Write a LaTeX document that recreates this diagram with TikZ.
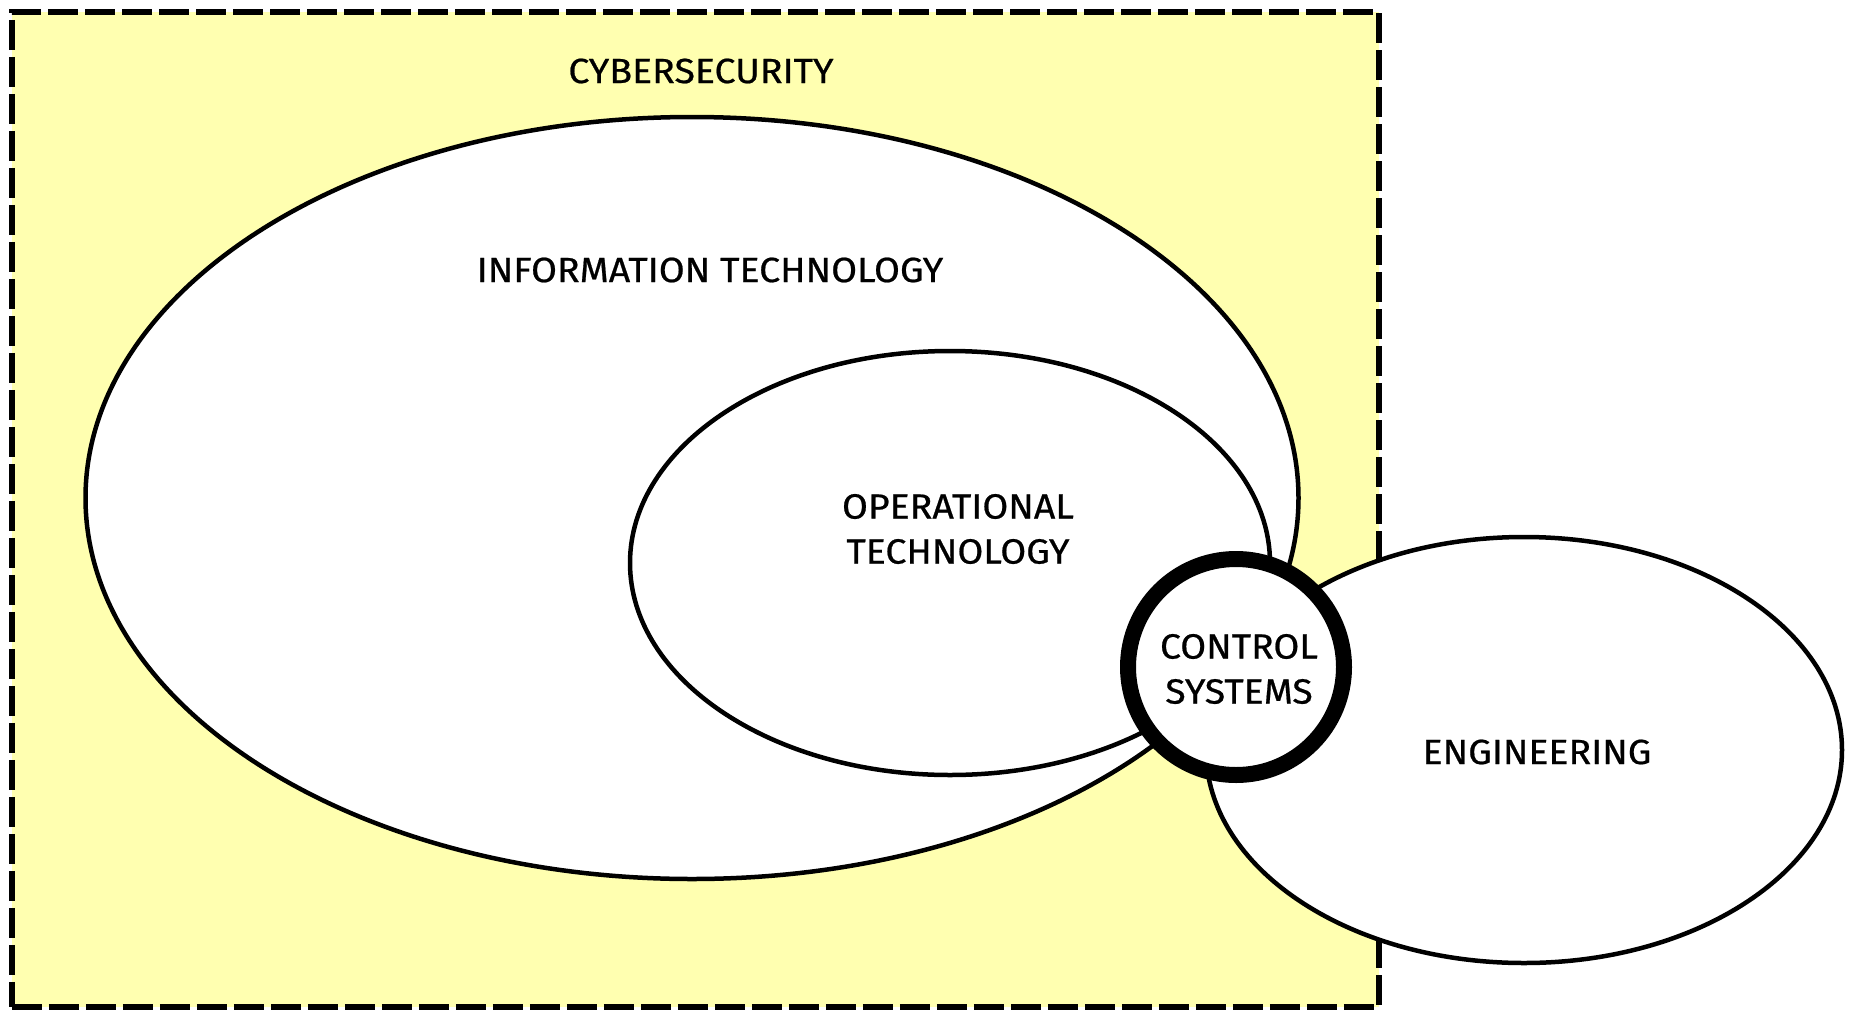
\documentclass[tikz,border=0pt]{standalone}
\usepackage{fontspec}
\setmainfont{Fira Sans}[FakeStretch=1.07,FakeBold=0.6]
\usetikzlibrary{shapes.geometric}
\definecolor{cyb}{HTML}{FFFFB0}
\begin{document}
\begin{tikzpicture}[x=1pt,y=-1pt,
  area/.style={ellipse, draw=black, fill=white, line width=4.5pt, inner sep=0pt},
  lbl/.style={font=\fontsize{35}{45}\selectfont, align=center, inner sep=0pt}]
\useasboundingbox (0,0) rectangle (1850,1012);
\node[draw=black, fill=cyb, line width=5.5pt, dash pattern=on 30pt off 7pt,
      minimum width=1367pt, minimum height=995pt, inner sep=0pt, anchor=north west] (cyber) at (9,9) {};
\node[area, minimum width=1213pt, minimum height=762pt] (it) at (692,498) {};
\node[area, minimum width=640pt, minimum height=424pt] (ot) at (950,563) {};
\node[area, minimum width=636pt, minimum height=426pt] (eng) at (1524,750) {};
\node[circle, draw=black, fill=white, line width=16pt, minimum size=216pt, inner sep=0pt] (cs) at (1236,667) {};
\node[lbl] (cyblbl) at (701,71) {CYBERSECURITY};
\node[lbl] (itlbl) at (710,270) {INFORMATION TECHNOLOGY};
\node[lbl] (otlbl) at (958,529) {OPERATIONAL\\TECHNOLOGY};
\node[lbl] (cslbl) at (1239,669) {CONTROL\\SYSTEMS};
\node[lbl] (englbl) at (1537,752) {ENGINEERING};
\end{tikzpicture}
\end{document}
